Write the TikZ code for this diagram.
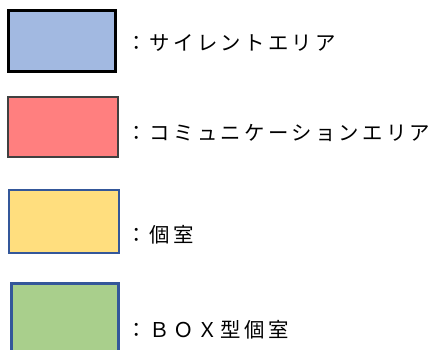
\documentclass[tikz,border=0pt]{standalone}
\usepackage{fontspec}
\newfontfamily\jpfont[LetterSpace=16]{Noto Sans CJK JP}
\definecolor{silentblue}{HTML}{A2B9E1}
\definecolor{commred}{HTML}{FF7F7F}
\definecolor{roomyellow}{HTML}{FFDE7E}
\definecolor{boxgreen}{HTML}{A9CF8C}
\definecolor{edgeblue}{HTML}{34579A}
\begin{document}
\begin{tikzpicture}[x=1pt,y=1pt,
  swatch/.style={inner sep=0pt, minimum width=107, minimum height=60},
  legendtext/.style={anchor=west, inner sep=0pt, font=\jpfont\fontsize{20.4}{24}\selectfont}]
  \useasboundingbox (0,0) rectangle (441,349);
  % colour swatches
  \node[swatch, fill=silentblue, draw=black, line width=3pt] (silent) at (61.5,308) {};
  \node[swatch, minimum width=110, fill=commred, draw=black!75, line width=1.2pt] (comm) at (63,222) {};
  \node[swatch, minimum width=110, minimum height=63, fill=roomyellow, draw=edgeblue, line width=2.5pt] (room) at (64,127.5) {};
  \node[swatch, minimum height=80, fill=boxgreen, draw=edgeblue, line width=3pt] (boxroom) at (64.5,26) {};
  % labels
  \node[legendtext] (silentlbl) at (126,306) {：サイレントエリア};
  \node[legendtext] (commlbl) at (126,216) {：コミュニケーションエリア};
  \node[legendtext] (roomlbl) at (126,114) {：個室};
  \node[legendtext] (boxroomlbl) at (126,19) {：ＢＯＸ型個室};
\end{tikzpicture}
\end{document}
